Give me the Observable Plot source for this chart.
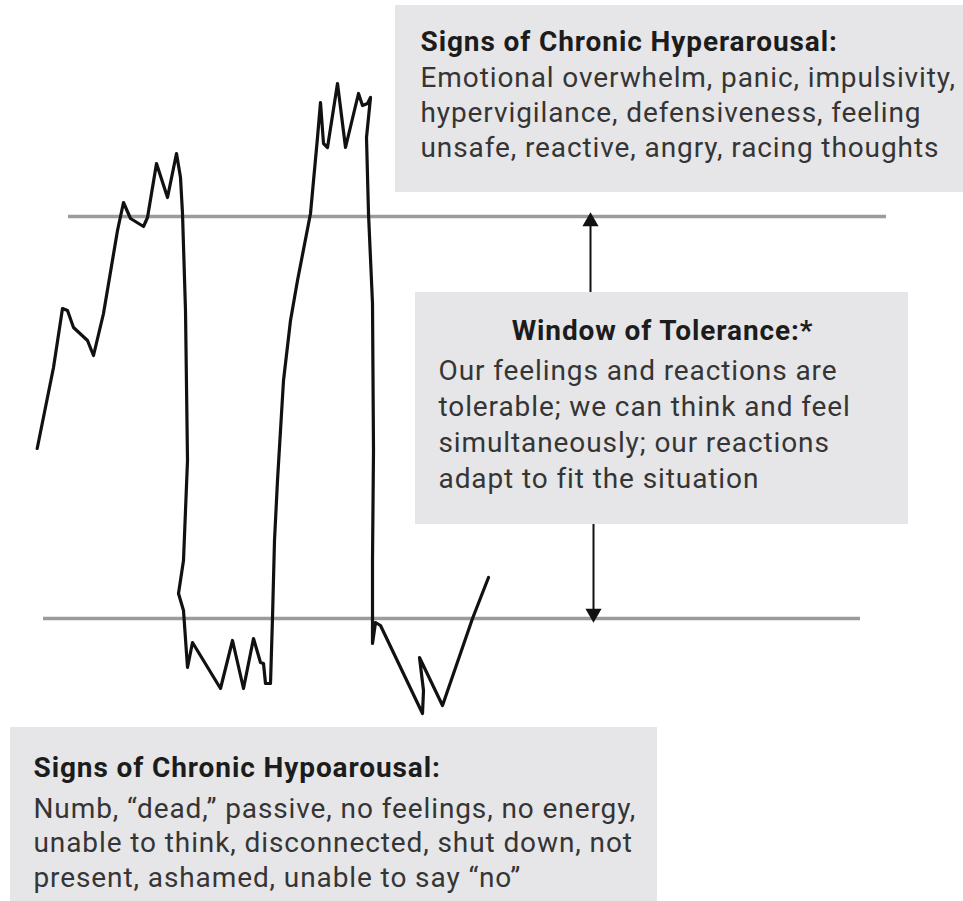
<!DOCTYPE html>
<html>
<head>
<meta charset="utf-8">
<script src="https://cdn.jsdelivr.net/npm/d3@7"></script>
<script src="https://cdn.jsdelivr.net/npm/@observablehq/plot@0.6"></script>
<style>
  html, body { margin: 0; padding: 0; background: #fff; }
  #chart svg { display: block; }
  #chart svg text { letter-spacing: 0.9px; }
</style>
</head>
<body>
<div id="chart"></div>
<script>
// ---- Data ----
const time = [36.7,53,62,67,73,87,93,103,117,123,130,143,147,156,167,176,180,182,185,187,183,178,183,187,192,220,232,243,253,260,263,265,270,272,274,277,283,290,297,310,317,320,323,327,337,345,358,362,367,370,366,368,372,373,372,372,375,380,422,423,419,442,472,488];
const arousal = [453,534,593,591,574,561,546,588,671,699,683,675,684,738,704,748,724,688,591,441,341,308,291,234,259,213,261,213,263,239,238,218,218,284,361,421,521,581,621,688,764,799,758,754,818,754,808,796,798,804,764,688,598,451,341,258,279,276,188,211,244,196,283,324];
const thresholds = [685, 283]; // hyperarousal / hypoarousal limits

const titles = ["Signs of Chronic Hyperarousal:", "Window of Tolerance:*", "Signs of Chronic Hypoarousal:"];
const bodies = [
  "Emotional overwhelm, panic, impulsivity,\nhypervigilance, defensiveness, feeling\nunsafe, reactive, angry, racing thoughts",
  "Our feelings and reactions are\ntolerable; we can think and feel\nsimultaneously; our reactions\nadapt to fit the situation",
  "Numb, “dead,” passive, no feelings, no energy,\nunable to think, disconnected, shut down, not\npresent, ashamed, unable to say “no”"
];

// ---- Layout (annotation geometry) ----
const W = 963, H = 901;
const series = time.map((t, i) => ({t, a: arousal[i]}));
const lineSpans = [{y: thresholds[0], x1: 68, x2: 886}, {y: thresholds[1], x1: 43, x2: 860}];
const boxes = [
  {x1: 395, x2: 963, y1: 709, y2: 896},
  {x1: 415, x2: 908, y1: 377, y2: 609},
  {x1: 10,  x2: 657, y1: 0,   y2: 174}
];
const titlePos = [
  {x: 420, y: 870, anchor: "start"},
  {x: 662, y: 581, anchor: "middle"},
  {x: 33,  y: 144, anchor: "start"}
];
const bodyPos = [
  {x: 420, y: 839, lh: 35},
  {x: 438, y: 547, lh: 36},
  {x: 33,  y: 108, lh: 34.5}
];
const arrows = [
  {x: 590, y1: 609, y2: thresholds[0] + 2, rot: 0},
  {x: 593, y1: 377, y2: thresholds[1] - 2, rot: 180}
];
const FS = 28;
const FONT = "Roboto, 'Noto Sans', sans-serif";

const marks = [
  Plot.rect(boxes, {x1: "x1", x2: "x2", y1: "y1", y2: "y2", fill: "#e6e6e8"}),
  Plot.ruleY(lineSpans, {y: "y", x1: "x1", x2: "x2", stroke: "#9b9b9b", strokeWidth: 3.5}),
  Plot.ruleX(arrows, {x: "x", y1: "y1", y2: d => d.y2 + (d.rot === 0 ? -8 : 8), stroke: "#111", strokeWidth: 2}),
  Plot.dot(arrows, {x: "x", y: d => d.y2 + (d.rot === 0 ? -7 : 7), symbol: "triangle", r: 6, fill: "#111", rotate: "rot"}),
  Plot.line(series, {x: "t", y: "a", stroke: "#111", strokeWidth: 3.2, strokeLinejoin: "round", strokeLinecap: "round"})
];
titles.forEach((t, i) => {
  marks.push(Plot.text([t], {x: titlePos[i].x, y: titlePos[i].y, text: d => d, textAnchor: titlePos[i].anchor,
    lineAnchor: "top", fontSize: FS, fontWeight: "bold", fill: "#1c1c1c", fontFamily: FONT}));
});
bodies.forEach((t, i) => {
  marks.push(Plot.text([t], {x: bodyPos[i].x, y: bodyPos[i].y, text: d => d, textAnchor: "start",
    lineAnchor: "top", lineHeight: bodyPos[i].lh / FS, fontSize: FS, fill: "#353535", fontFamily: FONT}));
});

const chart = Plot.plot({
  width: W, height: H,
  margin: 0,
  style: {background: "#fff", fontFamily: FONT},
  x: {domain: [0, W], range: [0, W], axis: null},
  y: {domain: [0, H], range: [H, 0], axis: null},
  marks
});
document.getElementById("chart").appendChild(chart);
</script>
</body>
</html>
